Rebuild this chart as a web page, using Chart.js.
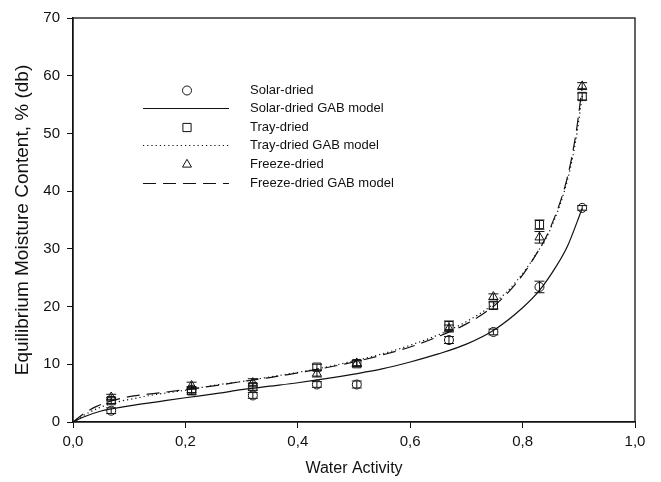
<!DOCTYPE html>
<html><head><meta charset="utf-8">
<script src="https://cdn.jsdelivr.net/npm/chart.js@4/dist/chart.umd.min.js"></script>
<style>html,body{margin:0;padding:0;background:#fff}#wrap{width:661px;height:482px}</style>
</head><body><div id="wrap"><canvas id="c" width="661" height="482"></canvas></div>
<script>
// Measured data
const aw = [0.068, 0.211, 0.32, 0.434, 0.505, 0.669, 0.748, 0.83, 0.906];
const solar = [1.96, 5.6, 4.6, 6.5, 6.5, 14.2, 15.6, 23.4, 37.1];
const tray = [3.7, 5.4, 6.1, 9.5, 10.1, 16.7, 20.2, 34.2, 56.4];
const freeze = [4.3, 6.3, 6.8, 8.4, 10.2, 16.2, 21.7, 32.0, 58.2];
const solarErr = [0.5, 0.5, 0.5, 0.5, 0.6, 0.6, 0.5, 1.0, 0.4];
const trayErr = [0.5, 0.6, 0.6, 0.5, 0.5, 0.8, 0.6, 0.8, 0.6];
const freezeErr = [0.5, 0.6, 0.7, 0.6, 0.5, 0.6, 0.5, 1.0, 0.6];

// GAB model curves
const solarGabAw = [0, 0.02, 0.05, 0.07, 0.1, 0.15, 0.2, 0.26, 0.3, 0.35, 0.4, 0.45, 0.5, 0.55, 0.6, 0.65, 0.7, 0.75, 0.8, 0.83, 0.86, 0.88, 0.906];
const solarGab = [0, 0.9, 1.9, 2.3, 2.8, 3.5, 4.2, 5.0, 5.6, 6.2, 6.8, 7.5, 8.3, 9.2, 10.4, 11.8, 13.5, 16.0, 19.8, 22.8, 27.0, 30.5, 37.0];
const trayGabAw = [0, 0.02, 0.05, 0.08, 0.1, 0.15, 0.2, 0.26, 0.3, 0.35, 0.4, 0.45, 0.5, 0.55, 0.6, 0.65, 0.7, 0.75, 0.79, 0.82, 0.85, 0.88, 0.895, 0.906];
const trayGab = [0, 1.2, 2.6, 3.5, 3.9, 4.8, 5.5, 6.5, 7.0, 7.8, 8.6, 9.5, 10.6, 11.8, 13.3, 15.1, 17.4, 20.6, 24.5, 28.5, 33.5, 42.0, 49.0, 56.5];
const freezeGabAw = [0, 0.02, 0.042, 0.07, 0.1, 0.15, 0.2, 0.26, 0.3, 0.35, 0.4, 0.45, 0.5, 0.55, 0.6, 0.65, 0.7, 0.75, 0.79, 0.82, 0.85, 0.88, 0.895, 0.906];
const freezeGab = [0, 1.5, 2.7, 3.7, 4.4, 5.0, 5.6, 6.4, 7.0, 7.7, 8.5, 9.4, 10.4, 11.6, 13.0, 14.8, 17.0, 20.2, 24.2, 28.4, 33.8, 42.5, 50.0, 58.0];

const xTicks = [0, 0.2, 0.4, 0.6, 0.8, 1.0];
const yTicks = [0, 10, 20, 30, 40, 50, 60, 70];
const legendLabels = ['Solar-dried', 'Solar-dried GAB model', 'Tray-dried', 'Tray-dried GAB model', 'Freeze-dried', 'Freeze-dried GAB model'];

const FONT = "'Liberation Sans', Arial, sans-serif";
const pts = (xs, ys) => xs.map((x, i) => ({x: x, y: ys[i]}));

function lineDs(label, xs, ys, dash) {
  return {label, data: pts(xs, ys), showLine: true, pointRadius: 0, borderColor: '#111', borderWidth: 1.2,
    borderDash: dash, fill: false, cubicInterpolationMode: 'monotone'};
}
function markDs(label, ys, style, r, err) {
  return {label, data: pts(aw, ys), showLine: false, pointStyle: style, pointRadius: r, pointBorderWidth: 1,
    pointBorderColor: '#111', pointBackgroundColor: 'rgba(0,0,0,0)', errs: err};
}

const datasets = [
  lineDs(legendLabels[1], solarGabAw, solarGab, []),
  lineDs(legendLabels[3], trayGabAw, trayGab, [1.2, 3]),
  lineDs(legendLabels[5], freezeGabAw, freezeGab, [13, 7]),
  markDs(legendLabels[0], solar, 'circle', 4.5, solarErr),
  markDs(legendLabels[2], tray, 'rect', 5.8, trayErr),
  markDs(legendLabels[4], freeze, 'triangle', 5.2, freezeErr)
];

const extras = {
  id: 'extras',
  afterDatasetsDraw(chart) {
    const ctx = chart.ctx, xs = chart.scales.x, ys = chart.scales.y, a = chart.chartArea;
    ctx.save();
    // error bars
    ctx.strokeStyle = '#111'; ctx.lineWidth = 1;
    chart.data.datasets.forEach(ds => {
      if (!ds.errs) return;
      ds.data.forEach((p, i) => {
        const px = xs.getPixelForValue(p.x);
        const yt = ys.getPixelForValue(p.y + ds.errs[i]);
        const yb = ys.getPixelForValue(p.y - ds.errs[i]);
        ctx.beginPath();
        ctx.moveTo(px, yt); ctx.lineTo(px, yb);
        ctx.moveTo(px - 5, yt); ctx.lineTo(px + 5, yt);
        ctx.moveTo(px - 5, yb); ctx.lineTo(px + 5, yb);
        ctx.stroke();
      });
    });
    // frame
    ctx.lineWidth = 1.3;
    ctx.strokeRect(a.left, a.top, a.right - a.left, a.bottom - a.top);
    // legend
    ctx.font = '13px ' + FONT; ctx.textBaseline = 'middle'; ctx.textAlign = 'left';
    const ys0 = [90.5, 108.5, 127.5, 145.5, 164.5, 183.5];
    const order = [3, 0, 4, 1, 5, 2];
    order.forEach((di, k) => {
      const ds = chart.data.datasets[di], y = ys0[k];
      ctx.fillStyle = '#111';
      ctx.fillText(ds.label, 250, y - 0.5);
      ctx.strokeStyle = '#111';
      if (ds.showLine) {
        ctx.save(); ctx.lineWidth = 1.2; ctx.setLineDash(ds.borderDash);
        ctx.beginPath(); ctx.moveTo(143, y); ctx.lineTo(229, y); ctx.stroke(); ctx.restore();
      } else {
        ctx.save();
        ctx.lineWidth = 1; ctx.fillStyle = 'rgba(0,0,0,0)';
        Chart.helpers.drawPoint(ctx, {pointStyle: ds.pointStyle, radius: ds.pointRadius, borderWidth: 1, rotation: 0}, 187, y);
        ctx.restore();
      }
    });
    ctx.restore();
  }
};

new Chart(document.getElementById('c'), {
  type: 'scatter',
  data: {datasets},
  options: {
    responsive: false, animation: false, devicePixelRatio: 1,
    layout: {padding: {top: 18, right: 26, left: 0, bottom: 0}},
    plugins: {legend: {display: false}, tooltip: {enabled: false}},
    scales: {
      x: {type: 'linear', min: 0, max: 1,
        afterBuildTicks: s => { s.ticks = xTicks.map(v => ({value: v})); },
        afterFit: s => { s.height = 60; },
        grid: {drawOnChartArea: false, drawTicks: true, tickLength: 6, color: '#111'},
        border: {display: true, color: '#111', width: 1.3},
        ticks: {color: '#111', font: {family: FONT, size: 15}, padding: 5,
          callback: v => v.toFixed(1).replace('.', ',')},
        title: {display: true, text: 'Water Activity', color: '#111', font: {family: FONT, size: 16}, padding: {top: 4}}
      },
      y: {type: 'linear', min: 0, max: 70,
        afterBuildTicks: s => { s.ticks = yTicks.map(v => ({value: v})); },
        afterFit: s => { s.width = 73; },
        grid: {drawOnChartArea: false, drawTicks: true, tickLength: 6, color: '#111'},
        border: {display: true, color: '#111', width: 1.3},
        ticks: {color: '#111', font: {family: FONT, size: 15}, padding: 7},
        title: {display: true, text: 'Equilibrium Moisture Content, % (db)', color: '#111', font: {family: FONT, size: 19}, padding: {top: 11, bottom: 0}}
      }
    }
  },
  plugins: [extras]
});
</script></body></html>
